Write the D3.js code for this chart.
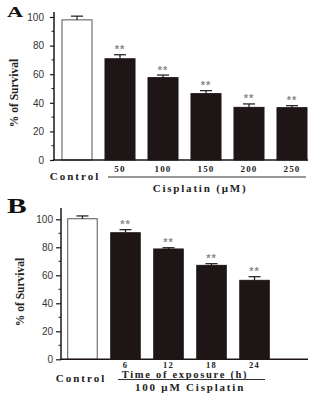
<!DOCTYPE html>
<html><head><meta charset="utf-8">
<script src="https://cdn.jsdelivr.net/npm/d3@7"></script>
<style>body{margin:0;background:#fff}svg{display:block}</style>
</head><body>
<script>
const catsA = ["Control","50","100","150","200","250"];
const valsA = [98, 70.8, 57.6, 46.4, 36.8, 36.6];
const errA  = [2.6, 2.8, 1.8, 2.1, 2.4, 1.4];
const sigA  = ["", "**", "**", "**", "**", "**"];
const catsB = ["Control","6","12","18","24"];
const valsB = [100.4, 90.4, 78.8, 67.1, 56.4];
const errB  = [2.0, 2.2, 0.9, 1.2, 2.6];
const sigB  = ["", "**", "**", "**", "**"];
const yTicks = [0,20,40,60,80,100];
const yMinor = [10,30,50,70,90];

const svg = d3.select("body").append("svg").attr("width",321).attr("height",395);
svg.append("rect").attr("width",321).attr("height",395).attr("fill","#fff");

const ink = "#1e1616";
const serif = "'Liberation Serif','Times New Roman',serif";
const sans = "'Liberation Sans',Arial,sans-serif";

function panel(o){
  const g = svg.append("g");
  const y = d3.scaleLinear().domain([0,100]).range([o.y0, o.y100]);
  const x = d3.scaleBand().domain(o.cats).range(o.xr).paddingInner(o.pi).paddingOuter(o.po);
  g.selectAll("rect.bar").data(o.cats).join("rect")
    .attr("x", d=>x(d)).attr("width", x.bandwidth())
    .attr("y", (d,i)=>y(o.vals[i])).attr("height",(d,i)=>y(0)-y(o.vals[i]))
    .attr("fill",(d,i)=> i===0 ? "#fff" : ink)
    .attr("stroke",(d,i)=> i===0 ? "#555" : ink).attr("stroke-width",1);
  g.selectAll("line.err").data(o.cats).join("line")
    .attr("x1", d=>x(d)+x.bandwidth()/2).attr("x2", d=>x(d)+x.bandwidth()/2)
    .attr("y1",(d,i)=>y(o.vals[i])).attr("y2",(d,i)=>y(o.vals[i]+o.errs[i]))
    .attr("stroke",ink).attr("stroke-width",1.2);
  g.selectAll("line.cap").data(o.cats).join("line")
    .attr("x1", d=>x(d)+x.bandwidth()/2-6).attr("x2", d=>x(d)+x.bandwidth()/2+6)
    .attr("y1",(d,i)=>y(o.vals[i]+o.errs[i])).attr("y2",(d,i)=>y(o.vals[i]+o.errs[i]))
    .attr("stroke",ink).attr("stroke-width",1.2);
  g.selectAll("text.sig").data(o.cats).join("text")
    .attr("x", d=>x(d)+x.bandwidth()/2).attr("y",(d,i)=>y(o.vals[i]+o.errs[i])-1.5)
    .attr("text-anchor","middle").attr("font-family",sans).attr("font-size",11).attr("font-weight","bold")
    .attr("letter-spacing",1).attr("fill","#8a8a8a")
    .text((d,i)=>o.sig[i]);
  const ya = d3.axisLeft(y).tickValues(yTicks).tickSize(o.tick).tickPadding(o.pad).tickSizeOuter(0);
  const yg = g.append("g").attr("transform",`translate(${o.xr[0]},0)`).call(ya);
  yg.select(".domain").remove();
  yg.selectAll(".tick line").attr("stroke",ink).attr("stroke-width",1.2);
  yg.selectAll(".tick text").attr("font-family",sans).attr("font-size",10).attr("fill","#333");
  g.selectAll("line.minor").data(yMinor).join("line")
    .attr("x1",o.xr[0]-2.5).attr("x2",o.xr[0]).attr("y1",d=>y(d)).attr("y2",d=>y(d))
    .attr("stroke",ink).attr("stroke-width",1);
  g.append("line").attr("x1",o.xr[0]).attr("x2",o.xr[0]).attr("y1",y(0)).attr("y2",o.axTop)
    .attr("stroke",ink).attr("stroke-width",1.5);
  g.append("line").attr("x1",o.xr[0]-1).attr("x2",o.xEnd).attr("y1",y(0)).attr("y2",y(0))
    .attr("stroke",ink).attr("stroke-width",1.5);
  g.selectAll("text.cat").data(o.cats.slice(1)).join("text")
    .attr("x", d=>x(d)+x.bandwidth()/2).attr("y", o.catY)
    .attr("text-anchor","middle").attr("font-family",serif).attr("font-weight","bold")
    .attr("font-size",o.catFs).attr("letter-spacing",1.2).attr("fill","#222").text(d=>d);
  g.append("text").attr("transform",`translate(${o.ylx},${o.yly}) rotate(-90)`)
    .attr("text-anchor","middle").attr("font-family",serif).attr("font-weight","bold")
    .attr("font-size",11.5).attr("fill","#222").text("% of Survival");
  return {g,x,y};
}

panel({cats:catsA, vals:valsA, errs:errA, sig:sigA, y0:160, y100:17,
  xr:[54,315], pi:0.302, po:0.186, xEnd:308, axTop:12, tick:4, pad:6, catY:172, catFs:9, ylx:18, yly:93});
panel({cats:catsB, vals:valsB, errs:errB, sig:sigB, y0:359.3, y100:219.3,
  xr:[61,276], pi:0.314, po:0.156, xEnd:308, axTop:208, tick:5, pad:3, catY:367.5, catFs:8.5, ylx:24, yly:292});

// Panel A annotations
svg.append("text").attr("x",75).attr("y",180).attr("text-anchor","middle").attr("font-family",serif)
  .attr("font-weight","bold").attr("font-size",11).attr("letter-spacing",2).attr("fill","#222").text("Control");
svg.append("line").attr("x1",108).attr("x2",306).attr("y1",177).attr("y2",177).attr("stroke","#333").attr("stroke-width",1);
svg.append("text").attr("x",200).attr("y",192).attr("text-anchor","middle").attr("font-family",serif)
  .attr("font-weight","bold").attr("font-size",11).attr("letter-spacing",1.8).attr("fill","#222").text("Cisplatin (μM)");
svg.append("text").attr("transform","translate(7,17) scale(1.6,1)").attr("font-family",serif)
  .attr("font-weight","bold").attr("font-size",14).attr("fill","#111").text("A");

// Panel B annotations
svg.append("text").attr("x",81).attr("y",382).attr("text-anchor","middle").attr("font-family",serif)
  .attr("font-weight","bold").attr("font-size",11).attr("letter-spacing",2).attr("fill","#222").text("Control");
svg.append("text").attr("x",185).attr("y",378).attr("text-anchor","middle").attr("font-family",serif)
  .attr("font-weight","bold").attr("font-size",10.5).attr("letter-spacing",1.7).attr("fill","#222").text("Time of exposure (h)");
svg.append("line").attr("x1",118).attr("x2",265).attr("y1",379.5).attr("y2",379.5).attr("stroke","#333").attr("stroke-width",1);
svg.append("text").attr("x",190).attr("y",391).attr("text-anchor","middle").attr("font-family",serif)
  .attr("font-weight","bold").attr("font-size",11).attr("letter-spacing",1.8).attr("fill","#222").text("100 μM Cisplatin");
svg.append("text").attr("transform","translate(7,213) scale(1.4,1)").attr("font-family",serif)
  .attr("font-weight","bold").attr("font-size",21).attr("fill","#111").text("B");
</script>
</body></html>
